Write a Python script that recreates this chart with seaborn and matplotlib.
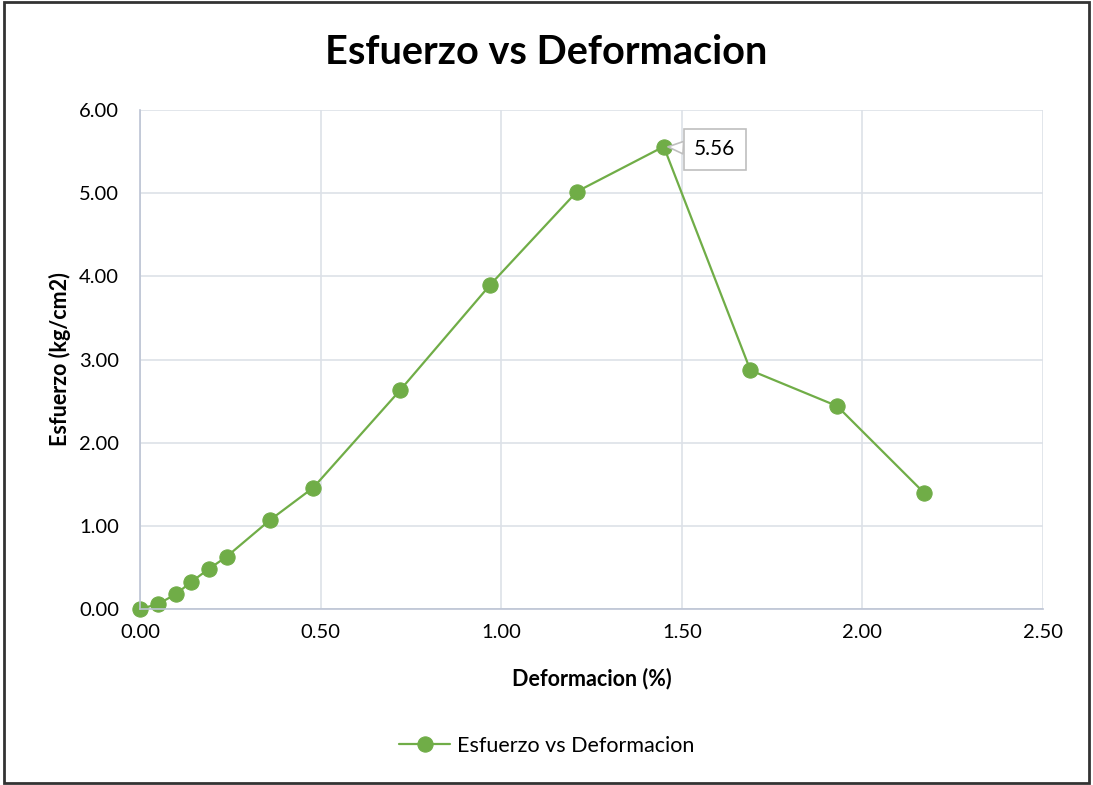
import matplotlib
matplotlib.use("Agg")
import matplotlib.pyplot as plt
import seaborn as sns
import pandas as pd
from matplotlib.patches import Rectangle

# Strain (%) and stress (kg/cm2) readings
deformacion = [0.00, 0.05, 0.10, 0.14, 0.19, 0.24, 0.36, 0.48, 0.72, 0.97, 1.21, 1.45, 1.69, 1.93, 2.17]
esfuerzo = [0.00, 0.06, 0.18, 0.32, 0.48, 0.63, 1.07, 1.46, 2.63, 3.90, 5.02, 5.56, 2.87, 2.44, 1.40]
x_ticks = [0.00, 0.50, 1.00, 1.50, 2.00, 2.50]
y_ticks = [0.00, 1.00, 2.00, 3.00, 4.00, 5.00, 6.00]
serie = "Esfuerzo vs Deformacion"

sns.set_theme(style="whitegrid")
plt.rcParams["font.family"] = ["Lato", "DejaVu Sans"]
plt.rcParams["text.color"] = "black"
plt.rcParams["axes.labelcolor"] = "black"

verde = "#70AD47"
df = pd.DataFrame({"Deformacion": deformacion, "Esfuerzo": esfuerzo, "serie": serie})

fig = plt.figure(figsize=(10.93, 7.85), dpi=100)
ax = fig.add_axes([140 / 1093, 1 - 609 / 785, (1043 - 140) / 1093, (609 - 110) / 785])

sns.lineplot(data=df, x="Deformacion", y="Esfuerzo", hue="serie", palette=[verde],
             marker="o", markersize=11, markeredgecolor=verde, markerfacecolor=verde,
             linewidth=1.6, sort=False, ax=ax, legend=True)
for line in ax.lines:
    line.set_clip_on(False)

ax.set_xlim(x_ticks[0], x_ticks[-1])
ax.set_ylim(y_ticks[0], y_ticks[-1])
ax.set_xticks(x_ticks)
ax.set_yticks(y_ticks)
ax.set_xticklabels([f"{v:.2f}" for v in x_ticks], fontsize=14.5)
ax.set_yticklabels([f"{v:.2f}" for v in y_ticks], fontsize=14.5)
ax.tick_params(axis="x", length=0, pad=11, colors="black")
ax.tick_params(axis="y", length=0, pad=15, colors="black")
ax.grid(True, color="#DDE1E8", linewidth=1.2)
ax.set_axisbelow(True)
for side in ["top", "right"]:
    ax.spines[side].set_visible(False)
for side in ["left", "bottom"]:
    ax.spines[side].set_color("#BCC4D4")
    ax.spines[side].set_linewidth(1.2)
ax.set_facecolor("white")

ax.set_xlabel("Deformacion (%)", fontsize=15.5, fontweight="bold", labelpad=19, color="black")
ax.set_ylabel("Esfuerzo (kg/cm2)", fontsize=15.5, fontweight="bold", labelpad=6, color="black")

# Label on the peak value
i_max = esfuerzo.index(max(esfuerzo))
ax.annotate(f"{esfuerzo[i_max]:.2f}", xy=(deformacion[i_max], esfuerzo[i_max]),
            xytext=(22, -2), textcoords="offset points", ha="left", va="center",
            fontsize=15, color="black",
            bbox=dict(boxstyle="square,pad=0.5", fc="white", ec="#BFBFBF", lw=1.2),
            arrowprops=dict(arrowstyle="wedge,tail_width=0.6,shrink_factor=0.5",
                            fc="white", ec="#BFBFBF", lw=1.2, shrinkA=0, shrinkB=3))

fig.suptitle("Esfuerzo vs Deformacion", x=0.5, y=1 - 52 / 785, va="center",
             fontsize=28.5, fontweight="bold", color="black")

handles, labels = ax.get_legend_handles_labels()
ax.get_legend().remove()
fig.legend(handles, labels, loc="center", bbox_to_anchor=(0.5, 1 - 746 / 785),
           frameon=False, fontsize=15.5, handlelength=2.4, handletextpad=0.3,
           labelcolor="black")

# Outer chart border
fig.patches.append(Rectangle((0.004, 0.003), 0.992, 0.994, transform=fig.transFigure,
                             fill=False, ec="#333333", lw=2))

fig.savefig("out.png", dpi=100, facecolor="white")
